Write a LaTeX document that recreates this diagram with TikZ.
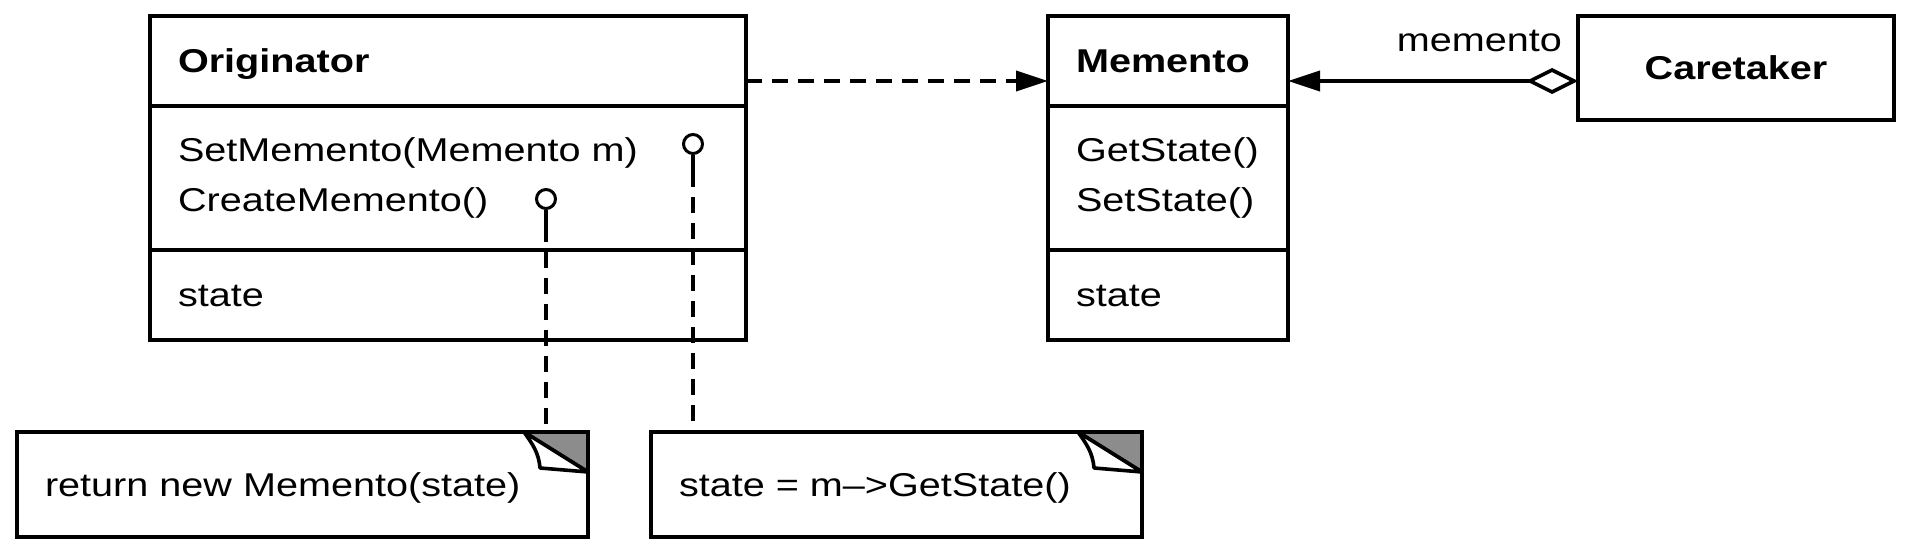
\documentclass[tikz,border=0pt]{standalone}
\usepackage{fontspec}
\setmainfont{Liberation Sans}[FakeStretch=1.2]
\usetikzlibrary{positioning,arrows.meta}
\newcommand{\umlfont}{\fontsize{16.5pt}{25.4pt}\selectfont}
\tikzset{
  box/.style={draw, line width=1.8pt, outer sep=0pt, inner xsep=14pt, inner ysep=0pt, align=left},
  line/.style={text height=14pt, text depth=2.2pt},
  head/.style={box, line, minimum height=45pt, font=\umlfont\bfseries},
  ops/.style={box, minimum height=72pt},
  attr/.style={box, line, minimum height=45pt},
  note/.style={box, line, minimum height=52.5pt},
  pin/.style={circle, draw, fill=white, line width=1.5pt, inner sep=0pt, minimum size=9.5pt},
  link/.style={line width=1.8pt},
  dep/.style={link, dash pattern=on 8pt off 5pt},
  fold/.style={link, line join=round},
  tri/.tip={Triangle[length=16pt,width=10pt]}
}

\begin{document}
\begin{tikzpicture}[font=\umlfont]
    \useasboundingbox (0,0) rectangle (958pt,-274.5pt);
    \node (orighead) [head, text width=270pt, anchor=north west] at (75pt,-8pt) {Originator};
    \node (origops) [ops, text width=270pt, below=0pt of orighead] {SetMemento(Memento m)\\CreateMemento()};
    \node (origattr) [attr, text width=270pt, below=0pt of origops] {state};
    \node (memhead) [head, text width=92pt, right=151pt of orighead] {Memento};
    \node (memops) [ops, text width=92pt, below=0pt of memhead] {GetState()\\SetState()};
    \node (memattr) [attr, text width=92pt, below=0pt of memops] {state};
    \node (care) [head, align=center, text width=130pt, minimum height=52pt,
      right=145pt of memhead.north east, anchor=north west] {Caretaker};
    \node (note1) [note, text width=257.5pt, below=46pt of origattr.south west,
      anchor=north west, xshift=-66.5pt] {return new Memento(state)};
    \node (note2) [note, text width=217.5pt, right=31.5pt of note1] {state = m-->GetState()};

    % folded corners of the notes
    \foreach \n in {note1,note2} {
      \filldraw[fold, fill=black!45] ([xshift=-32pt]\n.north east) -- (\n.north east)
        -- ([yshift=-20pt]\n.north east) -- cycle;
      \filldraw[fold, fill=white] ([xshift=-32pt]\n.north east) to[out=-55,in=95]
        ([xshift=-24pt,yshift=-18pt]\n.north east) -- ([yshift=-20pt]\n.north east) -- cycle;
    }

    \node (pin1) [pin] at ([xshift=271.5pt,yshift=-19pt]origops.north west) {};
    \node (pin2) [pin] at ([xshift=198pt,yshift=-46.5pt]origops.north west) {};
    \draw[link] (pin1.south) -- ++(0,-8pt) coordinate (stem1);
    \draw[dep] (stem1) -- (stem1 |- note2.north);
    \draw[link] (pin2.south) -- ++(0,-8pt) coordinate (stem2);
    \draw[dep] (stem2) -- (stem2 |- note1.north);

    \draw[dep, -tri] ([yshift=-10pt]orighead.east) -- ([yshift=-10pt]memhead.west);
    \draw[link, {Diamond[open,length=26pt,width=13pt]}-tri] ([yshift=-6.5pt]care.west)
      -- node (lbl) [above=10.5pt, pos=0.34] {memento} ([yshift=-10pt]memhead.east);
  \end{tikzpicture}
\end{document}
